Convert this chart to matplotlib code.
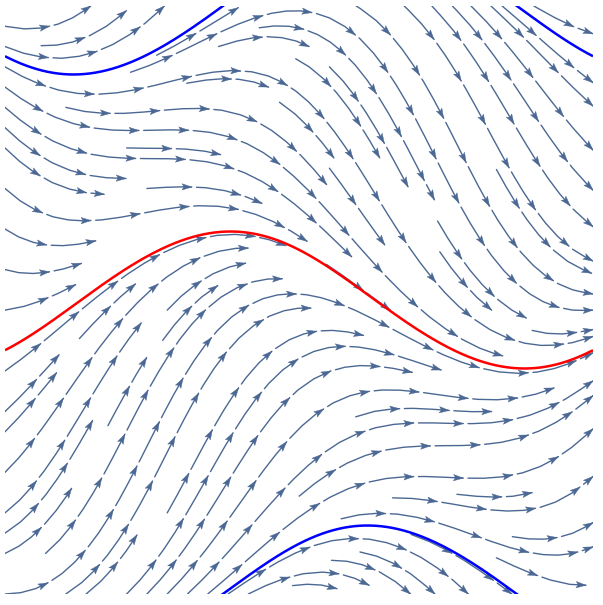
import numpy as np
import matplotlib
matplotlib.use('Agg')
import matplotlib.pyplot as plt
from matplotlib.collections import LineCollection, PolyCollection

# Stream plot of dy/dx = sin(x) - sin(y) on [0, 2pi] x [-pi, pi]
x_range = [0.0, 2 * np.pi]
y_range = [-np.pi, np.pi]
red_start = -0.5           # guess for the attracting periodic solution at x = 0
blue_start = np.pi - 0.5   # guess for the repelling one (near y = pi) at x = 2pi

stream_color = '#4b6894'
seg_len = 0.48    # length of one arrow piece (data units)
seg_gap = 0.05
head_len = 0.105
head_hw = 0.034


def slope(x, y):
    return np.sin(x) - np.sin(y)


def solve(y0, x0, x1, n=1500):
    xs = np.linspace(x0, x1, n)
    h = xs[1] - xs[0]
    ys = np.empty(n)
    ys[0] = y0
    y = y0
    for i in range(n - 1):
        x = xs[i]
        k1 = slope(x, y)
        k2 = slope(x + h / 2, y + h / 2 * k1)
        k3 = slope(x + h / 2, y + h / 2 * k2)
        k4 = slope(x + h, y + h * k3)
        y = y + h / 6 * (k1 + 2 * k2 + 2 * k3 + k4)
        ys[i + 1] = y
    return xs, ys


def periodic(y0, x0, x1):
    # run in the stable direction until it settles
    y = y0
    for _ in range(8):
        xs, ys = solve(y, x0, x1)
        y = ys[-1]
    return solve(y, x0, x1)


# streamlines from matplotlib's evenly spaced seeding, taken from a scratch figure
gx = np.linspace(x_range[0], x_range[1], 120)
gy = np.linspace(y_range[0], y_range[1], 120)
X, Y = np.meshgrid(gx, gy)
U = np.ones_like(X)
V = slope(X, Y)

tmp_fig, tmp_ax = plt.subplots(figsize=(6, 6))
res = tmp_ax.streamplot(gx, gy, U, V, density=1.0, broken_streamlines=True)
segs = [np.asarray(s) for s in res.lines.get_segments()]
plt.close(tmp_fig)

if all(len(s) == 2 for s in segs):
    lines = []
    cur = [segs[0][0], segs[0][1]]
    for s in segs[1:]:
        if np.allclose(s[0], cur[-1]):
            cur.append(s[1])
        else:
            lines.append(np.array(cur))
            cur = [s[0], s[1]]
    lines.append(np.array(cur))
else:
    lines = segs

pieces = []
heads = []
for ln in lines:
    if ln[-1, 0] < ln[0, 0]:
        ln = ln[::-1]
    d = np.hypot(np.diff(ln[:, 0]), np.diff(ln[:, 1]))
    cum = np.concatenate([[0], np.cumsum(d)])
    total = cum[-1]
    s = 0.0
    while s < total - 0.12:
        e = min(s + seg_len, total)
        t = np.concatenate([[s], cum[(cum > s) & (cum < e)], [e]])
        px = np.interp(t, cum, ln[:, 0])
        py = np.interp(t, cum, ln[:, 1])
        pieces.append(np.column_stack([px, py]))
        tip = np.array([px[-1], py[-1]])
        bx = np.interp(e - head_len, cum, ln[:, 0])
        by = np.interp(e - head_len, cum, ln[:, 1])
        dv = tip - np.array([bx, by])
        dv = dv / np.hypot(*dv)
        nv = np.array([-dv[1], dv[0]])
        base = tip - dv * head_len
        heads.append([tip, base + nv * head_hw, base + dv * head_len * 0.2, base - nv * head_hw])
        s = e + seg_gap

fig = plt.figure(figsize=(6.03, 6.05), dpi=100)
ax = fig.add_axes([5 / 603, 11 / 605, 588 / 603, 588 / 605])
ax.set_xlim(x_range)
ax.set_ylim(y_range)
ax.axis('off')

ax.add_collection(LineCollection(pieces, colors=stream_color, linewidths=1.0, capstyle='round'))
ax.add_collection(PolyCollection(heads, facecolors=stream_color, edgecolors=stream_color, linewidths=0.3))

rx, ry = periodic(red_start, x_range[0], x_range[1])
ax.plot(rx, ry, color='#ff0000', lw=1.8, solid_capstyle='butt')

bx, by = periodic(blue_start, x_range[1], x_range[0])
ax.plot(bx, by, color='#0000ff', lw=1.8, solid_capstyle='butt')
ax.plot(bx, by - 2 * np.pi, color='#0000ff', lw=1.8, solid_capstyle='butt')

fig.savefig('out.png', dpi=100)
